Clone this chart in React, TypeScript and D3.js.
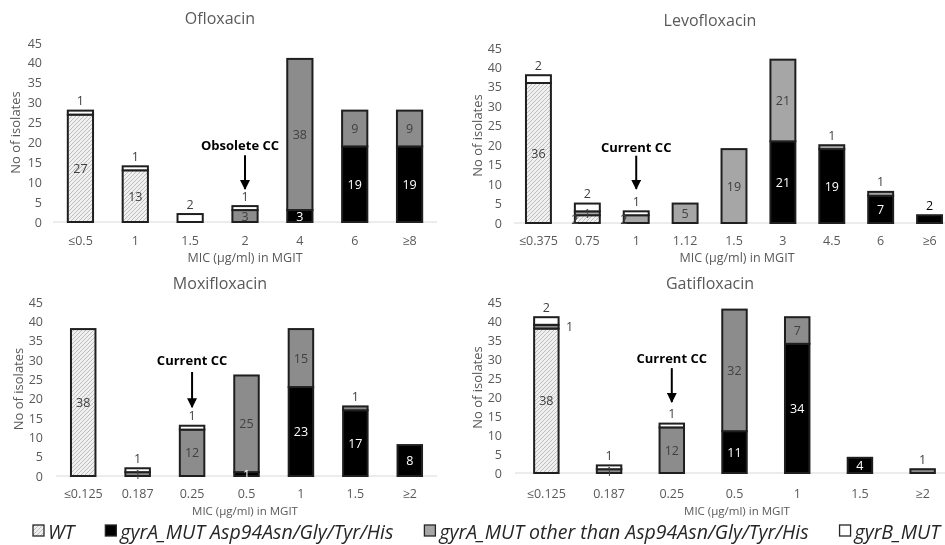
import React, { useEffect, useRef } from 'react';
import * as d3 from 'd3';

// --- data ---
const seriesKeys = ['wt', 'asp', 'other', 'gyrb'];
const seriesNames = ['WT', 'gyrA_MUT Asp94Asn/Gly/Tyr/His', 'gyrA_MUT other than Asp94Asn/Gly/Tyr/His', 'gyrB_MUT'];
const yTicks = [0, 5, 10, 15, 20, 25, 30, 35, 40, 45];

const oflCats = ['≤0.5', '1', '1.5', '2', '4', '6', '≥8'];
const oflWT = [27, 13, 0, 0, 0, 0, 0];
const oflAsp = [0, 0, 0, 0, 3, 19, 19];
const oflOther = [0, 0, 0, 3, 38, 9, 9];
const oflGyrB = [1, 1, 2, 1, 0, 0, 0];

const levCats = ['≤0.375', '0.75', '1', '1.12', '1.5', '3', '4.5', '6', '≥6'];
const levWT = [36, 2, 0, 0, 0, 0, 0, 0, 0];
const levAsp = [0, 0, 0, 0, 0, 21, 19, 7, 2];
const levOther = [0, 1, 2, 5, 19, 21, 1, 1, 0];
const levGyrB = [2, 2, 1, 0, 0, 0, 0, 0, 0];

const moxCats = ['≤0.125', '0.187', '0.25', '0.5', '1', '1.5', '≥2'];
const moxWT = [38, 0, 0, 0, 0, 0, 0];
const moxAsp = [0, 0, 0, 1, 23, 17, 8];
const moxOther = [0, 1, 12, 25, 15, 1, 0];
const moxGyrB = [0, 1, 1, 0, 0, 0, 0];

const gatCats = ['≤0.125', '0.187', '0.25', '0.5', '1', '1.5', '≥2'];
const gatWT = [38, 0, 0, 0, 0, 0, 0];
const gatAsp = [0, 0, 0, 11, 34, 4, 0];
const gatOther = [1, 1, 12, 32, 7, 0, 1];
const gatGyrB = [2, 1, 1, 0, 0, 0, 0];

// labels that were dragged aside in the original
const labelMoves = [
  { chart: 'Levofloxacin', key: 'wt', cat: '0.75', side: 'left' },
  { chart: 'Levofloxacin', key: 'other', cat: '1', side: 'left' },
  { chart: 'Gatifloxacin', key: 'other', cat: '≤0.125', side: 'right' },
];

const panels = [
  { title: 'Ofloxacin', cats: oflCats, cols: [oflWT, oflAsp, oflOther, oflGyrB],
    x0: 53, x1: 437, y0: 222, yTop: 43, pad: 0.54, titleX: 220, titleY: 18, yLabX: 42, yTitleX: 15,
    tickY: 240, xTitleY: 257, xTitleX: 245, xTitleSize: 12.5, grey: '#8c8c8c',
    note: { text: 'Obsolete CC', cat: '2', textV: 19.3, fromV: 16.8, toV: 8.3, dx: -5 } },
  { title: 'Levofloxacin', cats: levCats, cols: [levWT, levAsp, levOther, levGyrB],
    x0: 514, x1: 954, y0: 223, yTop: 48, pad: 0.49, titleX: 710, titleY: 20, yLabX: 502, yTitleX: 477,
    tickY: 240, xTitleY: 257, xTitleX: 737, xTitleSize: 12.5, grey: '#a6a6a6',
    note: { text: 'Current CC', cat: '1', textV: 19.5, fromV: 17.3, toV: 8.8, dx: 0 } },
  { title: 'Moxifloxacin', cats: moxCats, cols: [moxWT, moxAsp, moxOther, moxGyrB],
    x0: 56, x1: 437, y0: 476, yTop: 302, pad: 0.55, titleX: 220, titleY: 283, yLabX: 43, yTitleX: 18,
    tickY: 493, xTitleY: 510, xTitleX: 245, xTitleSize: 11.5, grey: '#8c8c8c',
    note: { text: 'Current CC', cat: '0.25', textV: 30, fromV: 26.9, toV: 17.8, dx: 0 } },
  { title: 'Gatifloxacin', cats: gatCats, cols: [gatWT, gatAsp, gatOther, gatGyrB],
    x0: 515, x1: 954, y0: 473, yTop: 302, pad: 0.61, titleX: 710, titleY: 283, yLabX: 502, yTitleX: 477,
    tickY: 493, xTitleY: 510, xTitleX: 737, xTitleSize: 11.5, grey: '#8c8c8c',
    note: { text: 'Current CC', cat: '0.25', textV: 30.3, fromV: 27.6, toV: 18.7, dx: 0 } },
];

const FONT = '"Open Sans", "Noto Sans", sans-serif';
const TXT = '#595959';

const App = () => {
  const ref = useRef<SVGSVGElement>(null);

  useEffect(() => {
    const svg = d3.select(ref.current);
    svg.selectAll('*').remove();

    const defs = svg.append('defs');
    const pat = defs.append('pattern').attr('id', 'hatch')
      .attr('patternUnits', 'userSpaceOnUse').attr('width', 4).attr('height', 4);
    pat.append('rect').attr('width', 4).attr('height', 4).attr('fill', '#f0f0f0');
    pat.append('path').attr('d', 'M-1,1 l2,-2 M0,4 l4,-4 M3,5 l2,-2')
      .attr('stroke', '#bdbdbd').attr('stroke-width', 1);

    defs.append('marker').attr('id', 'arrow').attr('viewBox', '0 0 10 10')
      .attr('refX', 9).attr('refY', 5).attr('markerWidth', 5).attr('markerHeight', 5)
      .attr('orient', 'auto')
      .append('path').attr('d', 'M0,0 L10,5 L0,10 z').attr('fill', '#000');

    panels.forEach(p => {
      const g = svg.append('g');
      const x = d3.scaleBand().domain(p.cats).range([p.x0, p.x1])
        .paddingInner(p.pad).paddingOuter(p.pad / 2);
      const y = d3.scaleLinear().domain([0, 45]).range([p.y0, p.yTop]);
      const colors = ['url(#hatch)', '#000000', p.grey, '#ffffff'];

      const rows = p.cats.map((c, i) => {
        const r: any = { cat: c };
        seriesKeys.forEach((k, j) => { r[k] = p.cols[j][i]; });
        return r;
      });
      const stacked = d3.stack().keys(seriesKeys)(rows);

      // title
      g.append('text').attr('x', p.titleX).attr('y', p.titleY).attr('text-anchor', 'middle')
        .attr('dominant-baseline', 'central').attr('font-size', 16).attr('fill', TXT).text(p.title);

      // y tick labels
      g.selectAll('.yt').data(yTicks).enter().append('text')
        .attr('x', p.yLabX).attr('y', d => y(d)).attr('text-anchor', 'end')
        .attr('dominant-baseline', 'central').attr('font-size', 12.5).attr('fill', TXT)
        .text(d => d);

      // y title
      g.append('text').attr('transform', `translate(${p.yTitleX},${(p.y0 + p.yTop) / 2}) rotate(-90)`)
        .attr('text-anchor', 'middle').attr('dominant-baseline', 'central')
        .attr('font-size', 13).attr('fill', TXT).text('No of isolates');

      // baseline
      g.append('line').attr('x1', p.x0).attr('x2', p.x1).attr('y1', p.y0).attr('y2', p.y0)
        .attr('stroke', '#d9d9d9').attr('stroke-width', 1);

      // x tick labels
      g.selectAll('.xt').data(p.cats).enter().append('text')
        .attr('x', d => (x(d) as number) + x.bandwidth() / 2).attr('y', p.tickY)
        .attr('text-anchor', 'middle').attr('dominant-baseline', 'central')
        .attr('font-size', 12.5).attr('fill', TXT).text(d => d);

      g.append('text').attr('x', p.xTitleX).attr('y', p.xTitleY).attr('text-anchor', 'middle')
        .attr('dominant-baseline', 'central').attr('font-size', p.xTitleSize).attr('fill', TXT)
        .text('MIC (µg/ml) in MGIT');

      // bars
      stacked.forEach((layer, li) => {
        layer.forEach((d: any, ci) => {
          const v = d[1] - d[0];
          if (v <= 0) return;
          const bx = x(p.cats[ci]) as number;
          g.append('rect').attr('x', bx).attr('width', x.bandwidth())
            .attr('y', y(d[1])).attr('height', y(d[0]) - y(d[1]))
            .attr('fill', colors[li]).attr('stroke', '#1f1f1f').attr('stroke-width', 2);
        });
      });

      // labels
      stacked.forEach((layer, li) => {
        const key = seriesKeys[li];
        layer.forEach((d: any, ci) => {
          const v = d[1] - d[0];
          if (v <= 0) return;
          const cat = p.cats[ci];
          const bx = x(cat) as number;
          const cx = bx + x.bandwidth() / 2;
          const total = p.cols.reduce((s, col) => s + col[ci], 0);
          const isTop = d[1] === total;
          const mv = labelMoves.find(m => m.chart === p.title && m.key === key && m.cat === cat);
          let side = 'center';
          if (mv) side = mv.side;
          else if (key === 'gyrb' || (isTop && v <= 2)) side = 'top';
          let lx = cx;
          let ly = (y(d[0]) + y(d[1])) / 2;
          if (side === 'top') ly = y(d[1]) - 10;
          if (side === 'left') lx = bx;
          if (side === 'right') lx = bx + x.bandwidth() + 11;
          const onBlack = key === 'asp' && side === 'center';
          g.append('text').attr('x', lx).attr('y', ly).attr('text-anchor', 'middle')
            .attr('dominant-baseline', 'central').attr('font-size', 12.5)
            .attr('fill', onBlack ? '#ffffff' : (side === 'top' && key === 'asp' ? '#000' : '#404040'))
            .text(v);
        });
      });

      // critical concentration marker
      const n = p.note;
      const ax = (x(n.cat) as number) + x.bandwidth() / 2;
      g.append('text').attr('x', ax + n.dx).attr('y', y(n.textV)).attr('text-anchor', 'middle')
        .attr('dominant-baseline', 'central').attr('font-size', 13).attr('font-weight', 'bold')
        .attr('fill', '#000').text(n.text);
      g.append('line').attr('x1', ax).attr('x2', ax).attr('y1', y(n.fromV)).attr('y2', y(n.toV))
        .attr('stroke', '#000').attr('stroke-width', 2).attr('marker-end', 'url(#arrow)');
    });

    // legend, laid out left to right from measured text widths
    const lg = svg.append('g');
    const legFill = ['url(#hatch)', '#000000', '#a6a6a6', '#ffffff'];
    const items = seriesNames.map((name, i) => {
      const sq = lg.append('rect').attr('y', 525).attr('width', 11).attr('height', 11)
        .attr('fill', legFill[i]).attr('stroke', '#262626').attr('stroke-width', 1.3);
      const t = lg.append('text').attr('y', 531).attr('dominant-baseline', 'central')
        .attr('font-size', 19.5).attr('font-style', 'italic').attr('fill', '#262626').text(name);
      const w = (t.node() as SVGTextElement).getComputedTextLength();
      return { sq, t, w };
    });
    const startX = 33;
    const endX = 940;
    const used = d3.sum(items, it => it.w + 15);
    const gap = (endX - startX - used) / (items.length - 1);
    let cx = startX;
    items.forEach(it => {
      it.sq.attr('x', cx);
      it.t.attr('x', cx + 15);
      cx += 15 + it.w + gap;
    });
  }, []);

  return (
    <svg ref={ref} width={945} height={545}
      style={{ position: 'absolute', left: 0, top: 0, background: '#fff', fontFamily: FONT, willChange: 'transform' }} />
  );
};

export default App;
